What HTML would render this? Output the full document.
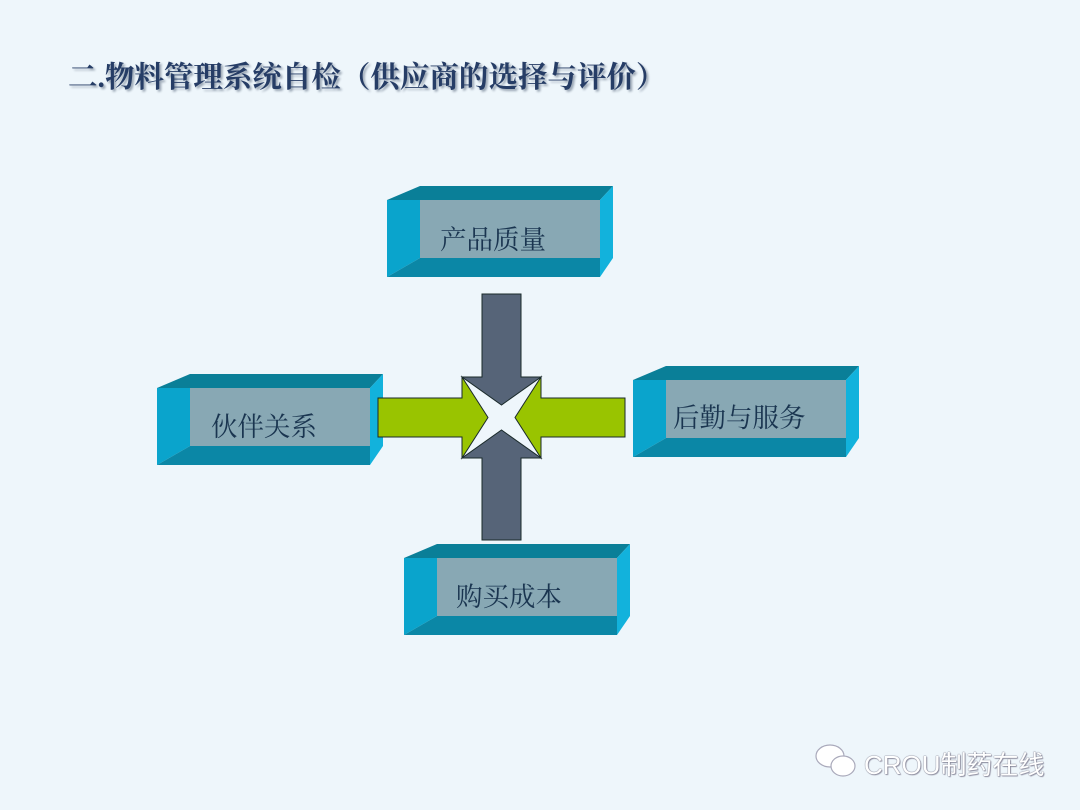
<!DOCTYPE html>
<html><head><meta charset="utf-8"><style>
body{margin:0;width:1080px;height:810px;background:#eef6fb;position:relative;overflow:hidden;font-family:"Liberation Sans","Noto Sans CJK SC",sans-serif}
.t{position:absolute;white-space:nowrap}
</style></head><body>
<div class="t" style="left:68px;top:54px;font-size:29.5px;font-weight:bold;color:#263d66;text-shadow:2px 2px 2px #9aa6b4;font-family:'Liberation Serif','Noto Serif CJK SC',serif">二.物料管理系统自检（供应商的选择与评价）</div>
<svg width="1080" height="810" style="position:absolute;left:0;top:0">
<defs>
<g id="box">
<polygon points="0,14 33,0 226,0 213,14" fill="#0a7f98"/>
<polygon points="213,14 226,0 226,72 213,91" fill="#12b2dc"/>
<polygon points="0,14 33,14 33,72 0,91" fill="#0aa4cc"/>
<polygon points="0,91 33,72 213,72 213,91" fill="#0b87a6"/>
<rect x="33" y="14" width="180" height="58" fill="#88a8b4"/>
</g>
</defs>
<use href="#box" x="387" y="186"/>
<use href="#box" x="157" y="374"/>
<use href="#box" x="633" y="366"/>
<use href="#box" x="404" y="544"/>
<g stroke="#1a2a2a" stroke-width="1">
<polygon points="482,294 521,294 521,377 541,377 501.5,405 462,377 482,377" fill="#566478"/>
<polygon points="482,540 521,540 521,458 541,458 501.5,430 462,458 482,458" fill="#566478"/>
<polygon points="378,398 462,398 462,377 488,417.5 462,458 462,437 378,437" fill="#99c400"/>
<polygon points="625,398 541,398 541,377 515,417.5 541,458 541,437 625,437" fill="#99c400"/>
</g>
<g font-family="Liberation Serif,Noto Serif CJK SC,serif" font-size="26.5" fill="#1a3550">
<text x="440" y="249">产品质量</text>
<text x="211" y="436">伙伴关系</text>
<text x="673" y="427">后勤与服务</text>
<text x="456" y="606">购买成本</text>
</g>
<g fill="#fff" stroke="#aab" stroke-width="1.2">
<ellipse cx="830" cy="756" rx="14" ry="11"/>
<ellipse cx="843" cy="766" rx="12" ry="10"/>
</g>
</svg>
<div class="t" style="left:864px;top:745px;font-size:26px;color:#fff;text-shadow:0 0 1px #778,0 0 1px #778,1px 1px 1px #99a">CROU制药在线</div>
</body></html>
